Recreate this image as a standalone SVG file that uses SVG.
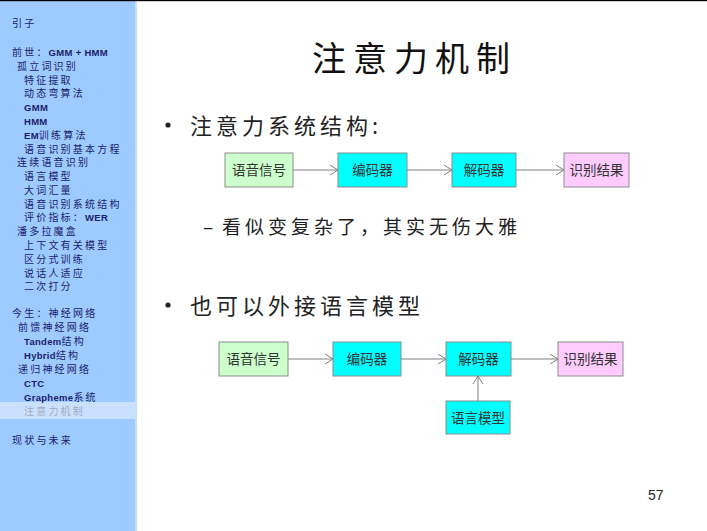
<svg xmlns="http://www.w3.org/2000/svg" width="707" height="531" viewBox="0 0 707 531">
<style>
.sb{font-family:"Noto Sans CJK SC","Liberation Sans",sans-serif;font-size:10px;fill:#1c1c6c;letter-spacing:2.2px}
.sb .l{font-family:"Liberation Sans",sans-serif;font-weight:bold;font-size:9.5px;letter-spacing:0.3px}
.sel{fill:#a3aabb}
.ttl{font-family:"Noto Sans CJK SC",sans-serif;font-size:34px;fill:#111;letter-spacing:7px}
.bl{font-family:"Noto Sans CJK SC",sans-serif;font-size:22px;fill:#222;letter-spacing:4px}
.sub{font-family:"Noto Sans CJK SC",sans-serif;font-size:19px;fill:#222;letter-spacing:4px}
.dot{fill:#222}
.box{stroke:#8c8c8c;stroke-width:1}
.g{fill:#ccffcc}.c{fill:#00ffff}.p{fill:#ffccff}
.bt{font-family:"Noto Sans CJK SC",sans-serif;font-size:13.5px;fill:#333;text-anchor:middle}
.ar{stroke:#808080;stroke-width:1;fill:none;marker-end:url(#ah)}
</style>
<defs>
<marker id="ah" markerWidth="10" markerHeight="12" refX="9" refY="6" orient="auto" markerUnits="userSpaceOnUse">
<path d="M1,1 L9,6 L1,11" fill="none" stroke="#808080" stroke-width="1"/>
</marker>
</defs>
<rect x="0" y="0" width="707" height="531" fill="#ffffff"/>
<g id="sidebar">
<rect x="0" y="0" width="135" height="531" fill="#9dcbff"/>
<rect x="135" y="0" width="2" height="531" fill="#c4e0ff"/>
<rect x="0" y="402" width="135" height="17" fill="#c9e1ff"/>
<text class="sb" x="12" y="27">引子</text>
<text class="sb" x="12" y="55.5">前世：<tspan class="l">GMM + HMM</tspan></text>
<text class="sb" x="17" y="69.5">孤立词识别</text>
<text class="sb" x="24" y="83.5">特征提取</text>
<text class="sb" x="24" y="97">动态弯算法</text>
<text class="sb" x="24" y="110.5"><tspan class="l">GMM</tspan></text>
<text class="sb" x="24" y="124.5"><tspan class="l">HMM</tspan></text>
<text class="sb" x="24" y="138.5"><tspan class="l">EM</tspan>训练算法</text>
<text class="sb" x="24" y="152.5">语音识别基本方程</text>
<text class="sb" x="17" y="166">连续语音识别</text>
<text class="sb" x="24" y="180">语言模型</text>
<text class="sb" x="24" y="194">大词汇量</text>
<text class="sb" x="24" y="207.5">语音识别系统结构</text>
<text class="sb" x="24" y="221">评价指标：<tspan class="l">WER</tspan></text>
<text class="sb" x="17" y="235">潘多拉魔盒</text>
<text class="sb" x="24" y="249">上下文有关模型</text>
<text class="sb" x="24" y="262.5">区分式训练</text>
<text class="sb" x="24" y="276.5">说话人适应</text>
<text class="sb" x="24" y="290">二次打分</text>
<text class="sb" x="12" y="317">今生：神经网络</text>
<text class="sb" x="18" y="331">前馈神经网络</text>
<text class="sb" x="24" y="344.5"><tspan class="l">Tandem</tspan>结构</text>
<text class="sb" x="24" y="358.5"><tspan class="l">Hybrid</tspan>结构</text>
<text class="sb" x="18" y="372.5">递归神经网络</text>
<text class="sb" x="24" y="386.5"><tspan class="l">CTC</tspan></text>
<text class="sb" x="24" y="400.5"><tspan class="l">Grapheme</tspan>系统</text>
<text class="sb sel" x="24" y="414.5">注意力机制</text>
<text class="sb" x="12" y="444">现状与未来</text>
</g>
<rect x="0" y="0" width="707" height="1.2" fill="#000"/>
<g id="title">
<text class="ttl" x="312" y="71">注意力机制</text>
</g>
<g id="bullets">
<circle class="dot" cx="168" cy="125" r="2.6"/>
<text class="bl" x="190" y="133.5">注意力系统结构:</text>
<text class="sub" x="203" y="233.5">–</text>
<text class="sub" x="222" y="234">看似变复杂了，其实无伤大雅</text>
<circle class="dot" cx="168" cy="305" r="2.6"/>
<text class="bl" x="190" y="313.5">也可以外接语言模型</text>
</g>
<g id="connectors">
<line class="ar" x1="293" y1="170" x2="338" y2="170"/>
<line class="ar" x1="407" y1="170" x2="452" y2="170"/>
<line class="ar" x1="516" y1="170" x2="564" y2="170"/>
<line class="ar" x1="288" y1="359" x2="333" y2="359"/>
<line class="ar" x1="401" y1="359" x2="446" y2="359"/>
<line class="ar" x1="511" y1="359" x2="558" y2="359"/>
<line class="ar" x1="478" y1="401" x2="478" y2="376"/>
</g>
<g id="d1-signal"><rect class="box g" x="225" y="153" width="68" height="34"/><text class="bt" x="259" y="175">语音信号</text></g>
<g id="d1-encoder"><rect class="box c" x="338" y="153" width="69" height="34"/><text class="bt" x="372.5" y="175">编码器</text></g>
<g id="d1-decoder"><rect class="box c" x="452" y="153" width="64" height="34"/><text class="bt" x="484" y="175">解码器</text></g>
<g id="d1-result"><rect class="box p" x="564" y="153" width="65" height="34"/><text class="bt" x="596.5" y="175">识别结果</text></g>
<g id="d2-signal"><rect class="box g" x="219" y="342" width="69" height="34"/><text class="bt" x="253.5" y="364">语音信号</text></g>
<g id="d2-encoder"><rect class="box c" x="333" y="342" width="68" height="34"/><text class="bt" x="367" y="364">编码器</text></g>
<g id="d2-decoder"><rect class="box c" x="446" y="342" width="65" height="34"/><text class="bt" x="478.5" y="364">解码器</text></g>
<g id="d2-result"><rect class="box p" x="558" y="342" width="65" height="34"/><text class="bt" x="590.5" y="364">识别结果</text></g>
<g id="d2-lm"><rect class="box c" x="446" y="401" width="64" height="33"/><text class="bt" x="478" y="422.5">语言模型</text></g>
<g id="page"><text x="648" y="500" font-family="Liberation Sans, sans-serif" font-size="14" fill="#222">57</text></g>
</svg>
